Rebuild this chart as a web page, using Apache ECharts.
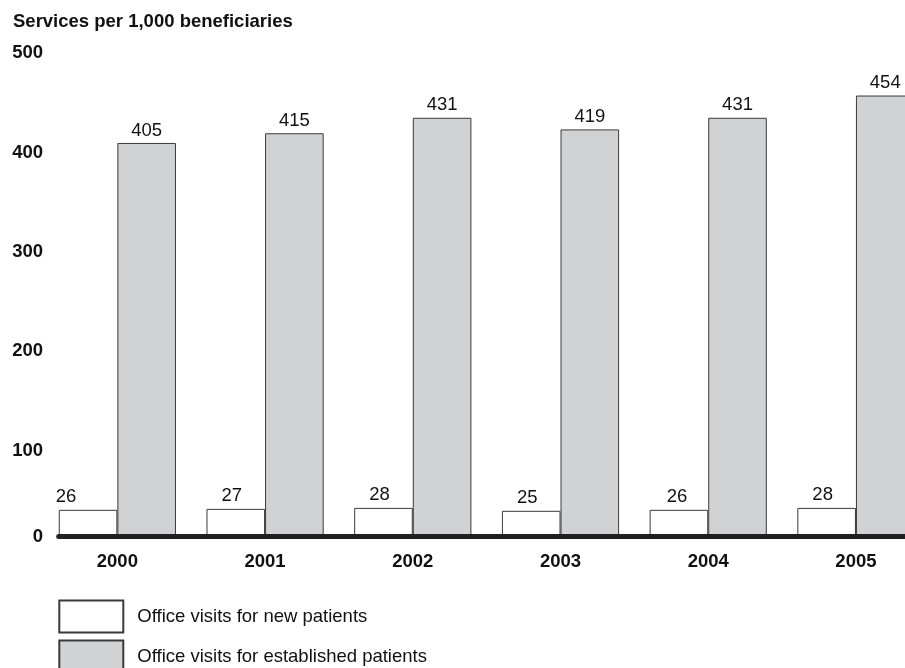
<!DOCTYPE html>
<html>
<head>
<meta charset="utf-8">
<script src="https://cdn.jsdelivr.net/npm/echarts@6/dist/echarts.min.js"></script>
<style>
html,body{margin:0;padding:0;background:#fff;}
#chart{width:905px;height:668px;}
</style>
</head>
<body>
<div id="chart"></div>
<script>
// ---- data ----
const years = ['2000', '2001', '2002', '2003', '2004', '2005'];
const newPatients = [26, 27, 28, 25, 26, 28];
const establishedPatients = [405, 415, 431, 419, 431, 454];
const yTicks = [0, 100, 200, 300, 400, 500];
const titleText = 'Services per 1,000 beneficiaries';
const seriesNames = ['Office visits for new patients', 'Office visits for established patients'];

// ---- style ----
const FONT = '"Liberation Sans", Arial, Helvetica, sans-serif';
const FS = 18.5;
const TXT = '#111';
const EDGE = '#3a3a3a';
const newLabelShift = [-22, -4, -4, -4, -2, -4];

const chart = echarts.init(document.getElementById('chart'), null, {renderer: 'canvas'});

const legendBase = {
  orient: 'vertical',
  left: 58.3,
  padding: 0,
  itemWidth: 64,
  itemHeight: 32,
  icon: 'rect',
  textStyle: {fontFamily: FONT, fontSize: FS, color: TXT, padding: [11, 0, 0, 9]}
};

const option = {
  animation: false,
  backgroundColor: '#fff',
  textStyle: {fontFamily: FONT},
  title: {
    text: titleText,
    left: 13,
    top: 12,
    padding: 0,
    textStyle: {fontFamily: FONT, fontSize: FS, fontWeight: 'bold', color: TXT}
  },
  legend: [
    Object.assign({}, legendBase, {top: 599.5, data: [seriesNames[0]]}),
    Object.assign({}, legendBase, {top: 639.5, data: [seriesNames[1]]})
  ],
  grid: [
    {left: 43.5, width: 886.3, top: 51, bottom: 133, outerBoundsMode: 'none', containLabel: false},
    {left: 58.7, width: 870, top: 52, bottom: 132.2, outerBoundsMode: 'none', containLabel: false},
    {left: 43, width: 1, top: 53.4, bottom: 118.3, outerBoundsMode: 'none', containLabel: false}
  ],
  xAxis: [
    {
      gridIndex: 0, type: 'category', data: years,
      axisLine: {show: false}, axisTick: {show: false},
      axisLabel: {fontFamily: FONT, fontSize: FS, fontWeight: 'bold', color: TXT, margin: 17}
    },
    {
      gridIndex: 1, type: 'value', min: 0, max: 1, z: 10,
      axisLine: {show: true, onZero: false, lineStyle: {color: '#231f20', width: 5}},
      axisTick: {show: false}, axisLabel: {show: false}, splitLine: {show: false}
    },
    {gridIndex: 2, type: 'value', show: false}
  ],
  yAxis: [
    {gridIndex: 0, type: 'value', min: 0, max: 500, show: false},
    {gridIndex: 1, type: 'value', min: 0, max: 500, show: false},
    {
      gridIndex: 2, type: 'value', min: yTicks[0], max: yTicks[yTicks.length - 1], interval: 100,
      axisLine: {show: false}, axisTick: {show: false}, splitLine: {show: false},
      axisLabel: {
        margin: 0, align: 'right',
        fontFamily: FONT, fontSize: FS, fontWeight: 'bold', color: TXT,
        formatter: v => v === 0 ? '{z|0}' : String(v),
        rich: {z: {fontFamily: FONT, fontSize: FS, fontWeight: 'bold', color: TXT, padding: [0, 0, 26, 0]}}
      }
    }
  ],
  series: [
    {
      name: seriesNames[0], type: 'bar', xAxisIndex: 0, yAxisIndex: 0,
      barWidth: 58.6, barGap: '0%',
      itemStyle: {color: '#ffffff', borderColor: EDGE, borderWidth: 1},
      label: {show: true, position: 'top', distance: 3, fontFamily: FONT, fontSize: FS, color: TXT},
      data: newPatients.map((v, i) => ({value: v, label: {offset: [newLabelShift[i], 0]}}))
    },
    {
      name: seriesNames[1], type: 'bar', xAxisIndex: 0, yAxisIndex: 0,
      barWidth: 58.6, barGap: '0%',
      itemStyle: {color: '#d1d2d4', borderColor: EDGE, borderWidth: 1},
      label: {show: true, position: 'top', distance: 3, fontFamily: FONT, fontSize: FS, color: TXT},
      data: establishedPatients
    }
  ]
};

chart.setOption(option);
</script>
</body>
</html>
